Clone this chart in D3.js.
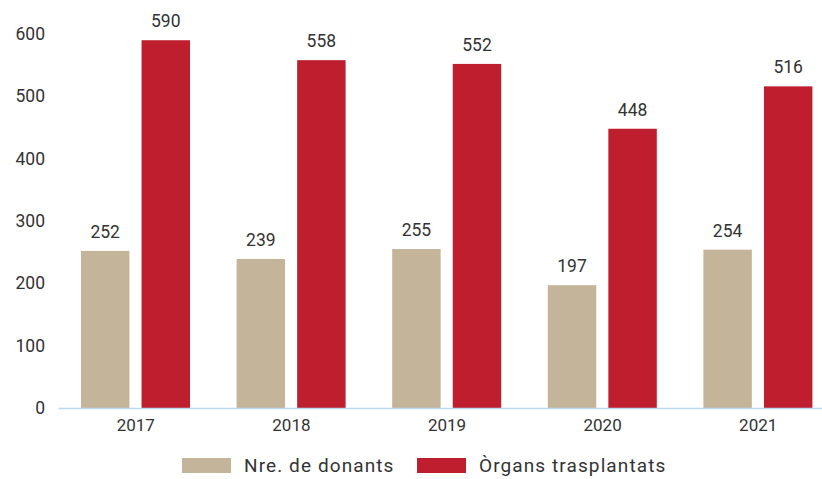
<!DOCTYPE html>
<html>
<head>
<meta charset="utf-8">
<script src="https://cdn.jsdelivr.net/npm/d3@7"></script>
<style>
  body { margin: 0; background: #fff; }
  svg { display: block; font-family: Roboto, "Liberation Sans", sans-serif; }
</style>
</head>
<body>
<svg width="822" height="479"></svg>
<script>
const years = ["2017", "2018", "2019", "2020", "2021"];
const donants = [252, 239, 255, 197, 254];
const organs = [590, 558, 552, 448, 516];
const seriesNames = ["Nre. de donants", "Òrgans trasplantats"];
const seriesColors = ["#c4b49a", "#be1e2d"];
const yTicks = [0, 100, 200, 300, 400, 500, 600];

const svg = d3.select("svg");

const x = d3.scaleBand().domain(years).range([58, 836]);
const x1 = d3.scaleBand().domain([0, 1]).range([23, 132]).paddingInner(0.2);
const y = d3.scaleLinear().domain([0, 600]).range([408, 34]);

// y labels, no axis line
svg.append("g")
  .selectAll("text")
  .data(yTicks)
  .enter()
  .append("text")
  .attr("x", 45)
  .attr("y", d => y(d))
  .attr("dy", "0.35em")
  .attr("text-anchor", "end")
  .attr("font-size", 17.5)
  .attr("fill", "#333")
  .text(d => d);

const rows = years.map((yr, i) => ({ year: yr, vals: [donants[i], organs[i]] }));

const groups = svg.append("g")
  .selectAll("g")
  .data(rows)
  .enter()
  .append("g")
  .attr("transform", d => "translate(" + x(d.year) + ",0)");

groups.selectAll("rect")
  .data(d => d.vals.map((v, k) => ({ k: k, v: v })))
  .enter()
  .append("rect")
  .attr("x", d => x1(d.k))
  .attr("y", d => y(d.v))
  .attr("width", x1.bandwidth())
  .attr("height", d => y(0) - y(d.v))
  .attr("fill", d => seriesColors[d.k]);

groups.selectAll("text")
  .data(d => d.vals.map((v, k) => ({ k: k, v: v })))
  .enter()
  .append("text")
  .attr("x", d => x1(d.k) + x1.bandwidth() / 2)
  .attr("y", d => y(d.v) - 13)
  .attr("text-anchor", "middle")
  .attr("font-size", 17.5)
  .attr("fill", "#333")
  .text(d => d.v);

// x axis
const xAxis = svg.append("g")
  .attr("transform", "translate(0,408)")
  .call(d3.axisBottom(x).tickSize(0).tickPadding(11));
xAxis.select(".domain").attr("stroke", "#bcd8ee").attr("stroke-width", 1.5);
xAxis.selectAll("text")
  .attr("font-size", 17)
  .attr("font-family", "Roboto, 'Liberation Sans', sans-serif")
  .attr("fill", "#333");

// legend
const legendX = [182, 417];
const legend = svg.append("g")
  .selectAll("g")
  .data(seriesNames)
  .enter()
  .append("g")
  .attr("transform", (d, i) => "translate(" + legendX[i] + ",458)");
legend.append("rect")
  .attr("width", 49)
  .attr("height", 15)
  .attr("fill", (d, i) => seriesColors[i]);
legend.append("text")
  .attr("x", 62)
  .attr("y", 14)
  .attr("font-size", 19)
  .attr("letter-spacing", 1.1)
  .attr("fill", "#333")
  .text(d => d);
</script>
</body>
</html>
